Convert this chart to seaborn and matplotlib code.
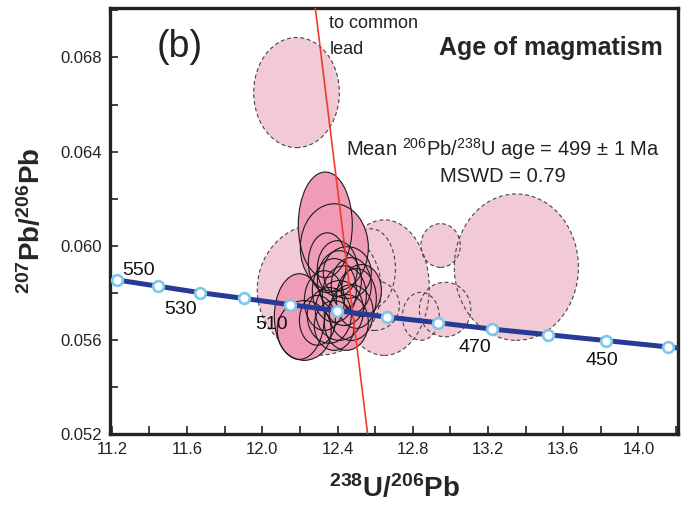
import numpy as np
import pandas as pd
import matplotlib
matplotlib.use("Agg")
import matplotlib.pyplot as plt
from matplotlib.patches import Ellipse
from matplotlib.ticker import MultipleLocator, FormatStrFormatter
import seaborn as sns

# ---- data ----
conc_age = [550, 540, 530, 520, 510, 500, 490, 480, 470, 460, 450, 440]
conc_x = [11.225, 11.445, 11.667, 11.903, 12.145, 12.397, 12.663, 12.932, 13.220, 13.518, 13.828, 14.156]
conc_y = [0.05855, 0.05828, 0.05801, 0.05776, 0.05750, 0.05724, 0.05697, 0.05673, 0.05646, 0.05622, 0.05597, 0.05570]
curve_end_x = [14.22]
curve_end_y = [0.05565]
labelled_ages = [550, 530, 510, 470, 450]

# discordia to common lead
disc_x = [12.282, 12.560]
disc_y = [0.0701, 0.0520]

# excluded analyses (dashed): centre x, centre y, half-axis x, half-axis y
excl_x = [12.182, 12.303, 12.649, 12.580, 12.596, 12.948, 12.972, 12.843, 13.351]
excl_y = [0.06651, 0.05814, 0.05822, 0.05903, 0.05746, 0.06001, 0.05729, 0.05700, 0.05909]
excl_rx = [0.2277, 0.330, 0.239, 0.128, 0.133, 0.105, 0.137, 0.098, 0.330]
excl_ry = [0.00234, 0.00279, 0.00288, 0.00169, 0.00106, 0.00093, 0.00116, 0.00102, 0.00311]

# included analyses (solid)
incl_x = [12.335, 12.383, 12.346, 12.197, 12.223, 12.330, 12.383, 12.410, 12.436, 12.473,
          12.356, 12.410, 12.473, 12.500, 12.383, 12.447, 12.293, 12.527, 12.399, 12.452]
incl_y = [0.06089, 0.05992, 0.05928, 0.05699, 0.05640, 0.05767, 0.05810, 0.05852, 0.05788, 0.05831,
          0.05704, 0.05725, 0.05716, 0.05776, 0.05661, 0.05674, 0.05683, 0.05810, 0.05903, 0.05886]
incl_rx = [0.1436, 0.1809, 0.1011, 0.1330, 0.1436, 0.1064, 0.1170, 0.1170, 0.1170, 0.1064,
           0.1170, 0.1277, 0.1170, 0.1064, 0.1064, 0.1170, 0.0957, 0.1064, 0.1064, 0.1277]
incl_ry = [0.002243, 0.001862, 0.001270, 0.001820, 0.001270, 0.001270, 0.001355, 0.001270, 0.001270, 0.001185,
           0.001185, 0.001270, 0.001185, 0.001270, 0.001058, 0.001185, 0.001058, 0.001100, 0.001185, 0.001100]

# ---- style ----
sns.set_theme(style="white")
plt.rcParams['font.family'] = ['Liberation Sans', 'DejaVu Sans']
plt.rcParams['mathtext.fontset'] = 'custom'
plt.rcParams['mathtext.rm'] = 'Liberation Sans'
plt.rcParams['mathtext.bf'] = 'Liberation Sans:bold'
plt.rcParams['mathtext.default'] = 'regular'

fig = plt.figure(figsize=(6.96, 5.05), dpi=100)
ax = fig.add_axes([0.158, 0.1406, 0.816, 0.8434])

LIGHT = '#F2CAD6'
DARK = '#F09CB6'

# excluded ellipses
for x, y, rx, ry in zip(excl_x, excl_y, excl_rx, excl_ry):
    ax.add_patch(Ellipse((x, y), 2 * rx, 2 * ry, facecolor=LIGHT, edgecolor='none', zorder=1))
for x, y, rx, ry in zip(excl_x, excl_y, excl_rx, excl_ry):
    ax.add_patch(Ellipse((x, y), 2 * rx, 2 * ry, fill=False, edgecolor='#444444',
                         linewidth=0.8, linestyle=(0, (3.5, 2.5)), zorder=2))
# included ellipses
for x, y, rx, ry in zip(incl_x, incl_y, incl_rx, incl_ry):
    ax.add_patch(Ellipse((x, y), 2 * rx, 2 * ry, facecolor=DARK, edgecolor='none', zorder=3))
for x, y, rx, ry in zip(incl_x, incl_y, incl_rx, incl_ry):
    ax.add_patch(Ellipse((x, y), 2 * rx, 2 * ry, fill=False, edgecolor='#1a1a1a',
                         linewidth=0.8, zorder=4))

# discordia line
ax.plot(disc_x, disc_y, color='#EE3B2B', linewidth=1.2, zorder=5)

# concordia curve
curve = pd.DataFrame({'x': conc_x + curve_end_x, 'y': conc_y + curve_end_y})
sns.lineplot(data=curve, x='x', y='y', ax=ax, color='#273A98', linewidth=3.6,
             sort=False, estimator=None, zorder=6)
pts = pd.DataFrame({'x': conc_x, 'y': conc_y, 'age': conc_age})
sns.scatterplot(data=pts, x='x', y='y', ax=ax, s=60, facecolor='white',
                edgecolor='#7CC7EA', linewidth=1.9, zorder=7)

offsets = {550: (16, 7), 530: (-14, -12), 510: (-13, -14), 470: (-12, -13), 450: (-3, -14)}
for age, x, y in zip(conc_age, conc_x, conc_y):
    if age in labelled_ages:
        dx, dy = offsets[age]
        ax.annotate(str(age), (x, y), xytext=(dx, dy), textcoords='offset points',
                    ha='center', va='center', fontsize=14, color='#111111', zorder=8)

ax.set_xlim(11.19, 14.21)
ax.set_ylim(0.052, 0.0701)
ax.xaxis.set_major_locator(MultipleLocator(0.4))
ax.xaxis.set_minor_locator(MultipleLocator(0.2))
ax.yaxis.set_major_locator(MultipleLocator(0.004))
ax.yaxis.set_minor_locator(MultipleLocator(0.002))
ax.xaxis.set_major_formatter(FormatStrFormatter('%.1f'))
ax.yaxis.set_major_formatter(FormatStrFormatter('%.3f'))
ax.tick_params(which='both', direction='in', length=6, width=1.2, color='#222222',
               labelsize=12, labelcolor='#222222', bottom=True, left=True, top=False, right=False,
               pad=6)
for s in ax.spines.values():
    s.set_linewidth(2.4)
    s.set_color('#222222')
    s.set_visible(True)

ax.set_xlabel(r'$^{238}$U/$^{206}$Pb', fontsize=20, fontweight='bold', labelpad=12)
ax.set_ylabel(r'$^{207}$Pb/$^{206}$Pb', fontsize=20, fontweight='bold', labelpad=10)

ax.text(0.123, 0.908, '(b)', transform=ax.transAxes, fontsize=27, ha='center', va='center',
        color='#222222')
ax.text(12.357, 0.06889, 'to common\nlead', fontsize=13, ha='left', va='center',
        color='#222222', linespacing=1.65)
ax.text(13.537, 0.0684, 'Age of magmatism', fontsize=18, fontweight='bold', ha='center', va='center')
ax.text(13.277, 0.06411, r'Mean $^{206}$Pb/$^{238}$U age = 499 $\pm$ 1 Ma', fontsize=14.5,
        ha='center', va='center', color='#222222')
ax.text(13.277, 0.06296, 'MSWD = 0.79', fontsize=14.5, ha='center', va='center', color='#222222')

fig.savefig('out.png', dpi=100)
